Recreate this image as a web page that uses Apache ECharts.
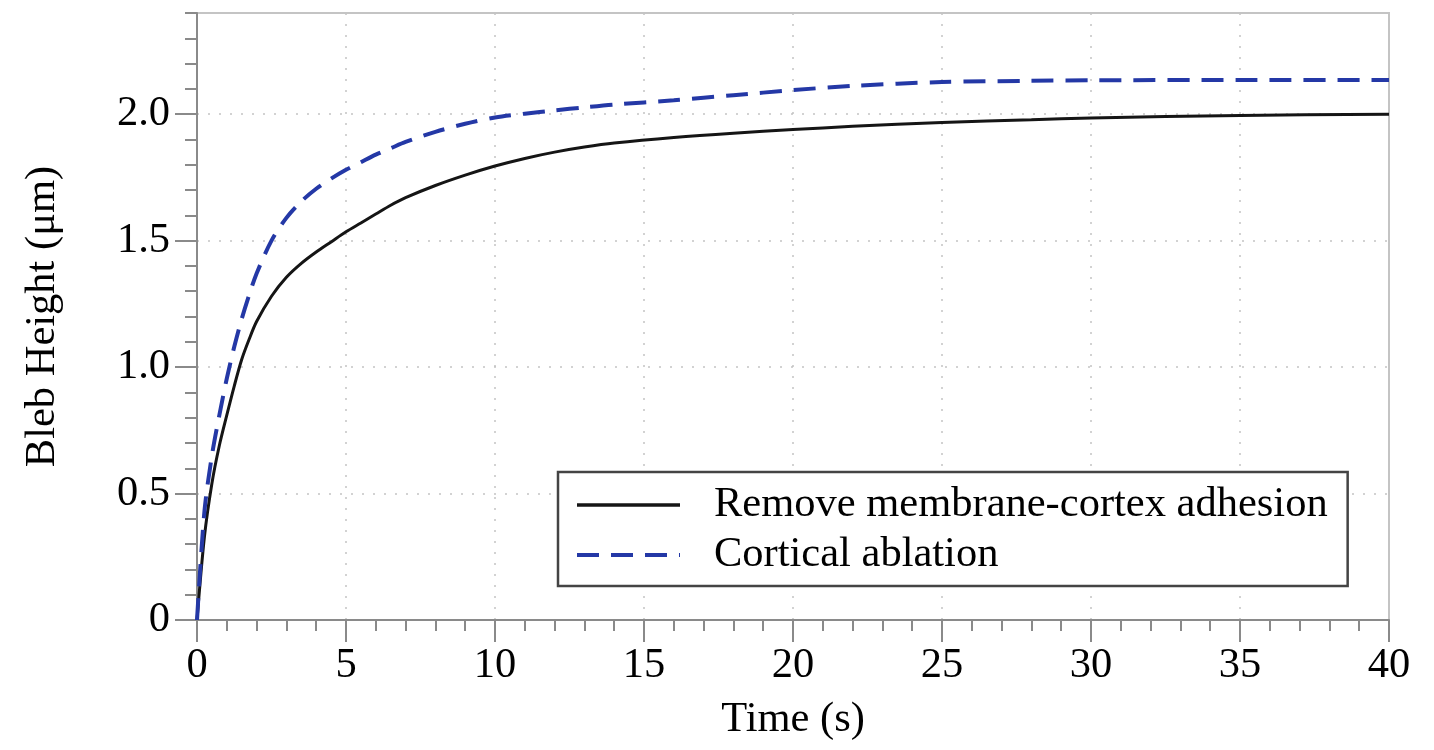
<!DOCTYPE html>
<html>
<head>
<meta charset="utf-8">
<script src="https://cdn.jsdelivr.net/npm/echarts@6/dist/echarts.min.js"></script>
<style>html,body{margin:0;padding:0;background:#fff}#c{width:1434px;height:750px}</style>
</head>
<body>
<div id="c"></div>
<script>
const time = [0,0.25,0.5,0.75,1,1.25,1.5,1.75,2,2.5,3,3.5,4,4.5,5,5.5,6,6.5,7,8,9,10,11,12,13,14,16,18,20,22,25,28,30,35,40];
const removeAdhesion = [0,0.33,0.54,0.69,0.81,0.925,1.03,1.11,1.18,1.28,1.355,1.41,1.455,1.495,1.535,1.57,1.605,1.64,1.67,1.718,1.759,1.795,1.825,1.85,1.87,1.886,1.908,1.925,1.939,1.952,1.967,1.978,1.985,1.995,2.0];
const corticalAblation = [0,0.43,0.65,0.81,0.955,1.08,1.19,1.285,1.37,1.50,1.59,1.655,1.705,1.745,1.78,1.81,1.84,1.865,1.89,1.93,1.962,1.987,2.002,2.015,2.027,2.038,2.055,2.075,2.095,2.112,2.127,2.132,2.134,2.135,2.135];
const seriesNames = ['Remove membrane-cortex adhesion','Cortical ablation'];
const xTitle = 'Time (s)';
const yTitle = 'Bleb Height (μm)';

const FONT = 'Liberation Serif';
const FS = 42.5;
const chart = echarts.init(document.getElementById('c'));
const dotted = {color:'#c4c4c4', width:1.5, type:[2,9]};
const axisLineStyle = {color:'#8a8a8a', width:2};
chart.setOption({
  animation:false,
  grid:[
    {left:197,right:45,top:13,bottom:130,show:true,borderColor:'#c4c4c4',borderWidth:2,backgroundColor:'transparent'},
    {left:197,right:45,top:114,bottom:130,show:false}
  ],
  legend:{
    orient:'vertical',left:558,top:472,
    backgroundColor:'#fff',borderColor:'#444',borderWidth:2.5,borderRadius:0,
    padding:[11,20,9,17],itemGap:6,itemWidth:103,itemHeight:20,
    itemStyle:{opacity:0},
    textStyle:{fontFamily:FONT,fontSize:FS,color:'#000',lineHeight:44,padding:[0,0,0,29]},
    data:[
      {name:seriesNames[0],lineStyle:{width:3.5}},
      {name:seriesNames[1],lineStyle:{width:4}}
    ]
  },
  xAxis:[
    {gridIndex:0,type:'value',min:0,max:40,interval:5,
     axisLine:{show:true,onZero:false,lineStyle:axisLineStyle},
     axisTick:{show:true,length:22,lineStyle:axisLineStyle},
     minorTick:{show:true,splitNumber:5,length:11,lineStyle:axisLineStyle},
     splitLine:{show:true,lineStyle:dotted},
     axisLabel:{fontFamily:FONT,fontSize:FS,color:'#000',margin:24},
     name:xTitle,nameLocation:'middle',nameGap:78,
     nameTextStyle:{fontFamily:FONT,fontSize:FS,color:'#000'}},
    {gridIndex:1,type:'value',min:0,max:40,show:false}
  ],
  yAxis:[
    {gridIndex:0,type:'value',min:0,max:2.4,interval:0.1,
     axisLine:{show:true,onZero:false,lineStyle:axisLineStyle},
     axisTick:{show:true,length:12,lineStyle:axisLineStyle},
     splitLine:{show:false},axisLabel:{show:false},
     name:yTitle,nameLocation:'middle',nameGap:133,
     nameTextStyle:{fontFamily:FONT,fontSize:FS,color:'#000'}},
    {gridIndex:1,type:'value',min:0,max:2,interval:0.5,
     axisLine:{show:false},
     axisTick:{show:true,length:22,lineStyle:axisLineStyle},
     splitLine:{show:true,lineStyle:dotted},
     axisLabel:{fontFamily:FONT,fontSize:FS,color:'#000',margin:27,
       formatter:v=>v===0?'0':v.toFixed(1)}}
  ],
  series:[
    {name:seriesNames[0],type:'line',xAxisIndex:0,yAxisIndex:0,symbol:'none',
     smooth:0.3,z:3,
     lineStyle:{color:'#151515',width:3},itemStyle:{color:'#151515'},
     data:time.map((t,i)=>[t,removeAdhesion[i]])},
    {name:seriesNames[1],type:'line',xAxisIndex:0,yAxisIndex:0,symbol:'none',
     smooth:0.3,z:3,
     lineStyle:{color:'#2438a6',width:4,type:[22,12]},itemStyle:{color:'#2438a6'},
     data:time.map((t,i)=>[t,corticalAblation[i]])}
  ]
});
</script>
</body>
</html>
